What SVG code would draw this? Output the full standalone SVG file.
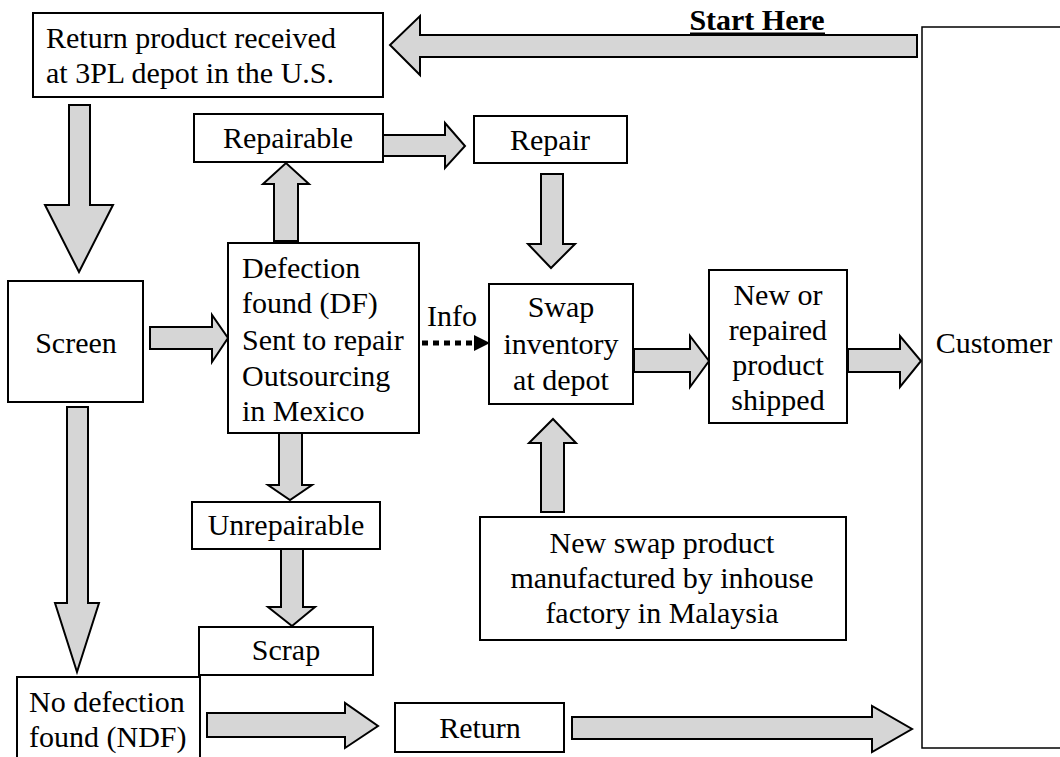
<svg xmlns="http://www.w3.org/2000/svg" width="1060" height="757" viewBox="0 0 1060 757">
<style>
.box{fill:#fff;stroke:#000;stroke-width:2}
.arr{fill:#d6d6d6;stroke:#000;stroke-width:2;stroke-linejoin:miter}
.t{font-family:"Liberation Serif","Times New Roman",serif;font-size:30px;fill:#000}
.c{text-anchor:middle}
.b{font-weight:bold}
</style>
<rect width="1060" height="757" fill="#fff"/>
<g id="connectors">
<polygon class="arr" points="917,35 420,35 420,16 390,45 420,75 420,57 917,57"/>
<polygon class="arr" points="69,105 90,105 90,205 113,205 79,272 45,205 69,205"/>
<polygon class="arr" points="150,327 212,327 212,315 228,338 212,362 212,349 150,349"/>
<polygon class="arr" points="274,241 274,184 263,184 286,163 309,184 298,184 298,241"/>
<polygon class="arr" points="383,135 445,135 445,123 465,146 445,168 445,156 383,156"/>
<polygon class="arr" points="541,174 563,174 563,244 575,244 551,268 528,244 541,244"/>
<polygon class="arr" points="634,349 690,349 690,336 709,361 690,387 690,372 634,372"/>
<polygon class="arr" points="848,349 900,349 900,336 921,361 900,387 900,372 848,372"/>
<polygon class="arr" points="541,512 541,443 529,443 553,419 576,443 564,443 564,512"/>
<polygon class="arr" points="279,433 302,433 302,485 312,485 290,500 268,485 279,485"/>
<polygon class="arr" points="281,549 303,549 303,607 315,607 292,626 268,607 281,607"/>
<polygon class="arr" points="67,407 88,407 88,603 99,603 77,672 55,603 67,603"/>
<polygon class="arr" points="207,713 345,713 345,703 378,726 345,748 345,737 207,737"/>
<polygon class="arr" points="572,717 872,717 872,706 912,729 872,752 872,739 572,739"/>
<line x1="422" y1="343" x2="476" y2="343" stroke="#000" stroke-width="5" stroke-dasharray="6 5"/>
<polygon points="474,335 490,343 474,351" fill="#000"/>
<text class="t" x="427" y="326">Info</text>
</g>
<g id="start">
<text class="t b c" x="757" y="30">Start Here</text>
<line x1="690" y1="33.5" x2="825" y2="33.5" stroke="#000" stroke-width="2"/>
</g>
<g id="received">
<rect class="box" x="33" y="13" width="350" height="84"/>
<text class="t" x="46" y="48">Return product received</text>
<text class="t" x="46" y="83">at 3PL depot in the U.S.</text>
</g>
<g id="repairable">
<rect class="box" x="194" y="114" width="189" height="48"/>
<text class="t c" x="288" y="148">Repairable</text>
</g>
<g id="repair">
<rect class="box" x="474" y="116" width="153" height="47"/>
<text class="t c" x="550" y="150">Repair</text>
</g>
<g id="screen">
<rect class="box" x="8" y="281" width="135" height="121"/>
<text class="t c" x="76" y="353">Screen</text>
</g>
<g id="df">
<rect class="box" x="228" y="243" width="191" height="190"/>
<text class="t" x="242" y="278">Defection</text>
<text class="t" x="242" y="313">found (DF)</text>
<text class="t" x="242" y="350">Sent to repair</text>
<text class="t" x="242" y="386">Outsourcing</text>
<text class="t" x="242" y="421">in Mexico</text>
</g>
<g id="swap">
<rect class="box" x="489" y="284" width="144" height="120"/>
<text class="t c" x="561" y="317">Swap</text>
<text class="t c" x="561" y="354">inventory</text>
<text class="t c" x="561" y="390">at depot</text>
</g>
<g id="shipped">
<rect class="box" x="709" y="270" width="138" height="153"/>
<text class="t c" x="778" y="305">New or</text>
<text class="t c" x="778" y="340">repaired</text>
<text class="t c" x="778" y="375">product</text>
<text class="t c" x="778" y="410">shipped</text>
</g>
<g id="customer">
<rect x="922" y="27" width="150" height="721" fill="#fff" stroke="#000" stroke-width="1.5"/>
<text class="t c" x="994" y="353">Customer</text>
</g>
<g id="unrepairable">
<rect class="box" x="192" y="502" width="188" height="47"/>
<text class="t c" x="286" y="535">Unrepairable</text>
</g>
<g id="scrap">
<rect class="box" x="199" y="627" width="174" height="48"/>
<text class="t c" x="286" y="660">Scrap</text>
</g>
<g id="newswap">
<rect class="box" x="480" y="517" width="366" height="123"/>
<text class="t c" x="662" y="553">New swap product</text>
<text class="t c" x="662" y="588">manufactured by inhouse</text>
<text class="t c" x="662" y="623">factory in Malaysia</text>
</g>
<g id="ndf">
<rect class="box" x="17" y="677" width="183" height="90"/>
<text class="t" x="29" y="712">No defection</text>
<text class="t" x="29" y="747">found (NDF)</text>
</g>
<g id="return">
<rect class="box" x="395" y="703" width="169" height="49"/>
<text class="t c" x="480" y="738">Return</text>
</g>
</svg>
